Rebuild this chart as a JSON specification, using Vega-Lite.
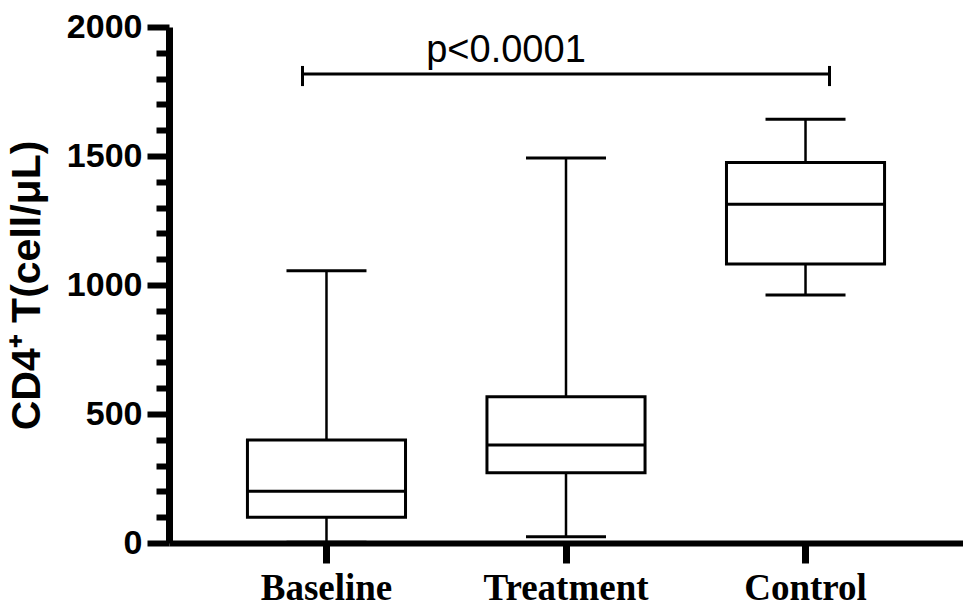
{
  "$schema": "https://vega.github.io/schema/vega-lite/v6.json",
  "width": 794,
  "height": 516,
  "autosize": "none",
  "padding": {"left": 169, "top": 27, "right": 0, "bottom": 63},
  "background": "white",
  "config": {"view": {"stroke": null}, "axis": {"labelOverlap": false}},
  "datasets": {
    "boxes": [
      {"group": "Baseline", "min": 3, "q1": 100, "median": 201, "q3": 399, "max": 1055},
      {"group": "Treatment", "min": 24, "q1": 272, "median": 380, "q3": 567, "max": 1492},
      {"group": "Control", "min": 961, "q1": 1081, "median": 1313, "q3": 1475, "max": 1642}
    ],
    "bracket": [
      {"from": "Baseline", "to": "Control", "y": 1818, "ylo": 1771, "yhi": 1849, "label": "p<0.0001", "labelAt": "Treatment", "labelY": 1864}
    ]
  },
  "encoding": {
    "x": {
      "field": "group",
      "type": "nominal",
      "sort": ["Baseline", "Treatment", "Control"],
      "scale": {"type": "band", "domain": ["Baseline", "Treatment", "Control"], "paddingInner": 0.34, "paddingOuter": 0.3275},
      "axis": {
        "title": null,
        "labelAngle": 0,
        "labelFont": "Liberation Serif",
        "labelFontWeight": "bold",
        "labelFontSize": 37,
        "labelColor": "black",
        "labelPadding": 7,
        "tickSize": 20,
        "tickWidth": 7,
        "tickColor": "black",
        "domainWidth": 6,
        "domainColor": "black",
        "zindex": 1,
        "grid": false
      }
    }
  },
  "layer": [
    {
      "data": {"name": "boxes"},
      "mark": {"type": "rule", "color": "black", "strokeWidth": 2.5},
      "encoding": {
        "y": {
          "field": "min",
          "type": "quantitative",
          "scale": {"domain": [0, 2000], "nice": false, "zero": true},
          "axis": {
            "title": "CD4⁺ T(cell/μL)",
            "values": [0, 100, 200, 300, 400, 500, 600, 700, 800, 900, 1000, 1100, 1200, 1300, 1400, 1500, 1600, 1700, 1800, 1900, 2000],
            "tickCount": 40,
            "format": "d",
            "labelExpr": "datum.value % 500 === 0 ? datum.label : ''",
            "tickSize": {"condition": {"test": "datum.value % 500 === 0", "value": 22}, "value": 13},
            "tickWidth": 6,
            "tickColor": "black",
            "domainWidth": 7,
            "domainColor": "black",
            "labelFont": "Liberation Sans",
            "labelFontWeight": "bold",
            "labelFontSize": 34,
            "labelColor": "black",
            "labelPadding": 5,
            "labelFlush": false,
            "labelOverlap": false,
            "titleFont": "Liberation Sans",
            "titleFontWeight": "bold",
            "titleFontSize": 41,
            "titleColor": "black",
            "titlePadding": 18,
            "grid": false,
            "zindex": 1
          }
        },
        "y2": {"field": "q1"}
      }
    },
    {
      "data": {"name": "boxes"},
      "mark": {"type": "rule", "color": "black", "strokeWidth": 2.5},
      "encoding": {
        "y": {"field": "q3", "type": "quantitative"},
        "y2": {"field": "max"}
      }
    },
    {
      "data": {"name": "boxes"},
      "mark": {"type": "tick", "color": "black", "size": 80, "thickness": 3, "opacity": 1},
      "encoding": {"y": {"field": "min", "type": "quantitative"}}
    },
    {
      "data": {"name": "boxes"},
      "mark": {"type": "tick", "color": "black", "size": 80, "thickness": 3, "opacity": 1},
      "encoding": {"y": {"field": "max", "type": "quantitative"}}
    },
    {
      "data": {"name": "boxes"},
      "mark": {"type": "bar", "fill": "white", "stroke": "black", "strokeWidth": 3},
      "encoding": {
        "y": {"field": "q1", "type": "quantitative"},
        "y2": {"field": "q3"}
      }
    },
    {
      "data": {"name": "boxes"},
      "mark": {"type": "tick", "color": "black", "size": 158, "thickness": 3, "opacity": 1},
      "encoding": {"y": {"field": "median", "type": "quantitative"}}
    },
    {
      "data": {"name": "bracket"},
      "mark": {"type": "rule", "color": "black", "strokeWidth": 3, "xOffset": -24, "x2Offset": 24},
      "encoding": {
        "x": {"field": "from", "type": "nominal"},
        "x2": {"field": "to"},
        "y": {"field": "y", "type": "quantitative"}
      }
    },
    {
      "data": {"name": "bracket"},
      "mark": {"type": "rule", "color": "black", "strokeWidth": 3, "xOffset": -24},
      "encoding": {
        "x": {"field": "from", "type": "nominal"},
        "y": {"field": "ylo", "type": "quantitative"},
        "y2": {"field": "yhi"}
      }
    },
    {
      "data": {"name": "bracket"},
      "mark": {"type": "rule", "color": "black", "strokeWidth": 3, "xOffset": 24},
      "encoding": {
        "x": {"field": "to", "type": "nominal"},
        "y": {"field": "ylo", "type": "quantitative"},
        "y2": {"field": "yhi"}
      }
    },
    {
      "data": {"name": "bracket"},
      "mark": {"type": "text", "font": "Liberation Sans", "fontSize": 38, "color": "black", "align": "center", "baseline": "alphabetic", "xOffset": -60},
      "encoding": {
        "x": {"field": "labelAt", "type": "nominal"},
        "y": {"field": "labelY", "type": "quantitative"},
        "text": {"field": "label"}
      }
    }
  ]
}
